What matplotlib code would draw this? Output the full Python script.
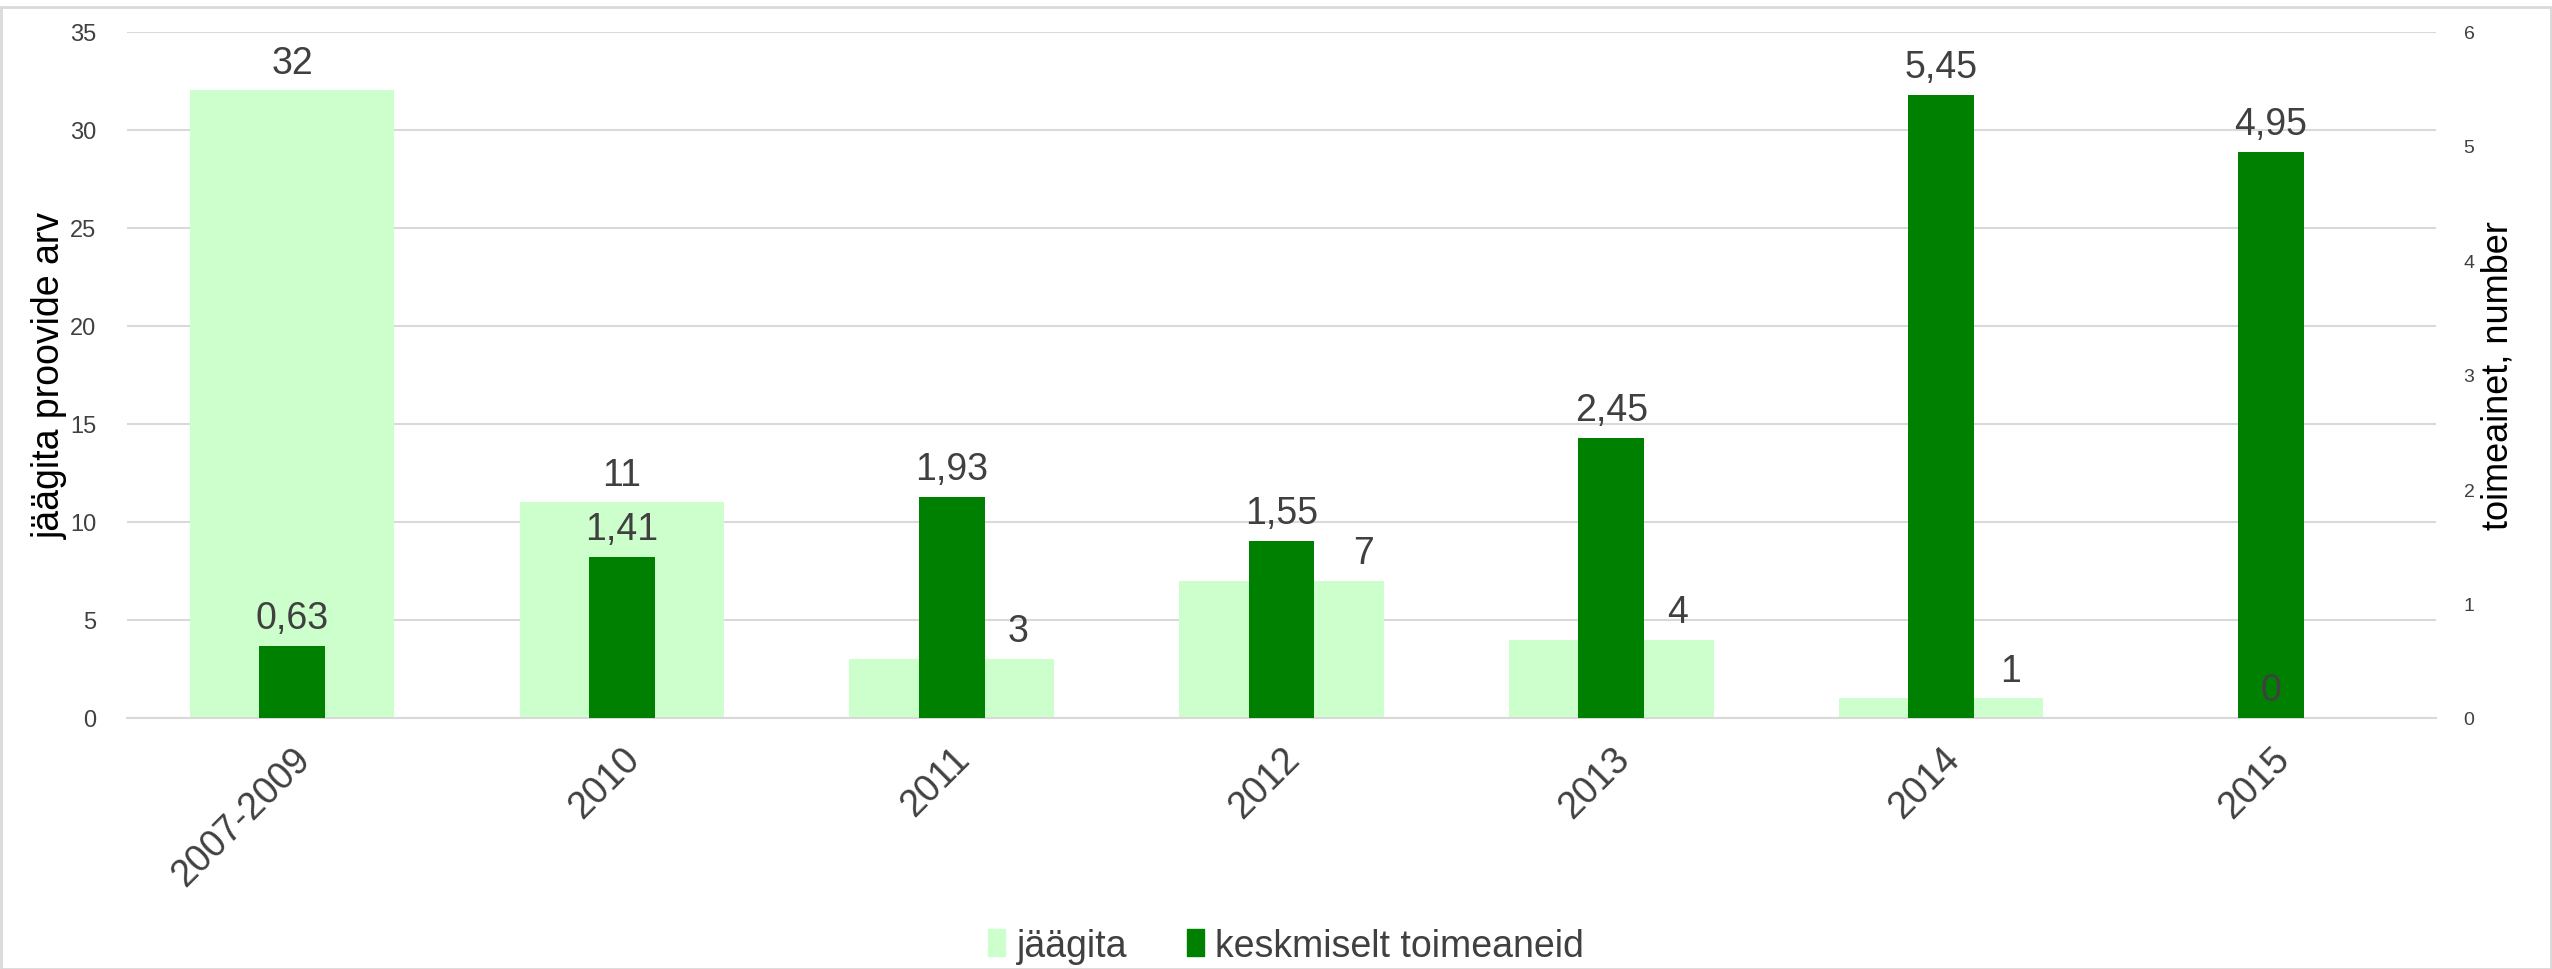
import matplotlib.pyplot as plt
import matplotlib.patches as mpatches
import numpy as np

plt.rcParams['font.family'] = ['Liberation Sans', 'DejaVu Sans']

categories = ['2007-2009', '2010', '2011', '2012', '2013', '2014', '2015']
jaagita = [32, 11, 3, 7, 4, 1, 0]
keskmiselt = [0.63, 1.41, 1.93, 1.55, 2.45, 5.45, 4.95]

# horizontal shift of the light-bar labels (category units), as Excel placed them
light_label_dx = [0, 0, 0.2, 0.25, 0.2, 0.21, 0]

light = '#CCFFCC'
dark = '#008000'
txt = '#404040'
grid = '#D9D9D9'

fig = plt.figure(figsize=(25.52, 9.70), dpi=100)
ax = fig.add_axes([0.0498, 0.2588, 0.9047, 0.7076])
ax2 = ax.twinx()

x = np.arange(len(categories))
ax.bar(x, jaagita, width=0.62, color=light, zorder=2)
ax2.bar(x, keskmiselt, width=0.2, color=dark, zorder=3)

ax.set_xlim(-0.5, len(categories) - 0.5)
ax.set_ylim(0, 35)
ax.set_yticks(np.arange(0, 36, 5))
ax2.set_ylim(0, 6)
ax2.set_yticks(np.arange(0, 7, 1))

ax.set_zorder(1)
ax2.set_zorder(2)
ax2.patch.set_visible(False)

ax.yaxis.grid(True, color=grid, linewidth=1.5, zorder=0)
ax.set_axisbelow(True)
for a in (ax, ax2):
    for s in a.spines.values():
        s.set_visible(False)
ax.spines['bottom'].set_visible(True)
ax.spines['bottom'].set_color(grid)
ax.spines['bottom'].set_linewidth(1.5)

ax.tick_params(axis='y', length=0, pad=22, labelsize=17, labelcolor=txt)
ax2.tick_params(axis='y', length=0, pad=20, labelsize=14, labelcolor=txt)
ax.set_xticks(x)
ax.set_xticklabels(categories, rotation=45, ha='right', rotation_mode='anchor',
                   fontsize=27, color=txt)
ax.tick_params(axis='x', length=0, pad=16)

ax.set_ylabel('jäägita proovide arv', fontsize=27, color='black', labelpad=2)
ax2.set_ylabel('toimeainet, number', fontsize=26, color='black', labelpad=4)

# light labels go on ax2 so that the "0" sits above the dark bar
for i, v in enumerate(jaagita):
    ax2.annotate(str(v), (x[i] + light_label_dx[i], v), xycoords=ax.transData,
                 xytext=(0, 7), textcoords='offset points', ha='center', va='bottom',
                 fontsize=27, color=txt, zorder=5)
for i, v in enumerate(keskmiselt):
    ax2.annotate(f'{v:.2f}'.replace('.', ','), (x[i], v), xytext=(0, 7),
                 textcoords='offset points', ha='center', va='bottom',
                 fontsize=27, color=txt, zorder=5)

handles = [mpatches.Patch(color=light, label='jäägita'),
           mpatches.Patch(color=dark, label='keskmiselt toimeaneid')]
fig.legend(handles=handles, loc='center', bbox_to_anchor=(0.504, 0.024), ncol=2,
           frameon=False, fontsize=27, labelcolor=txt, handlelength=0.45,
           handleheight=0.75, handletextpad=0.3, columnspacing=1.6)

fig.patches.append(mpatches.Rectangle((0.0005, 0.0), 0.999, 0.992, transform=fig.transFigure,
                                      fill=False, edgecolor=grid, linewidth=2))

fig.savefig('out.png', dpi=100)
